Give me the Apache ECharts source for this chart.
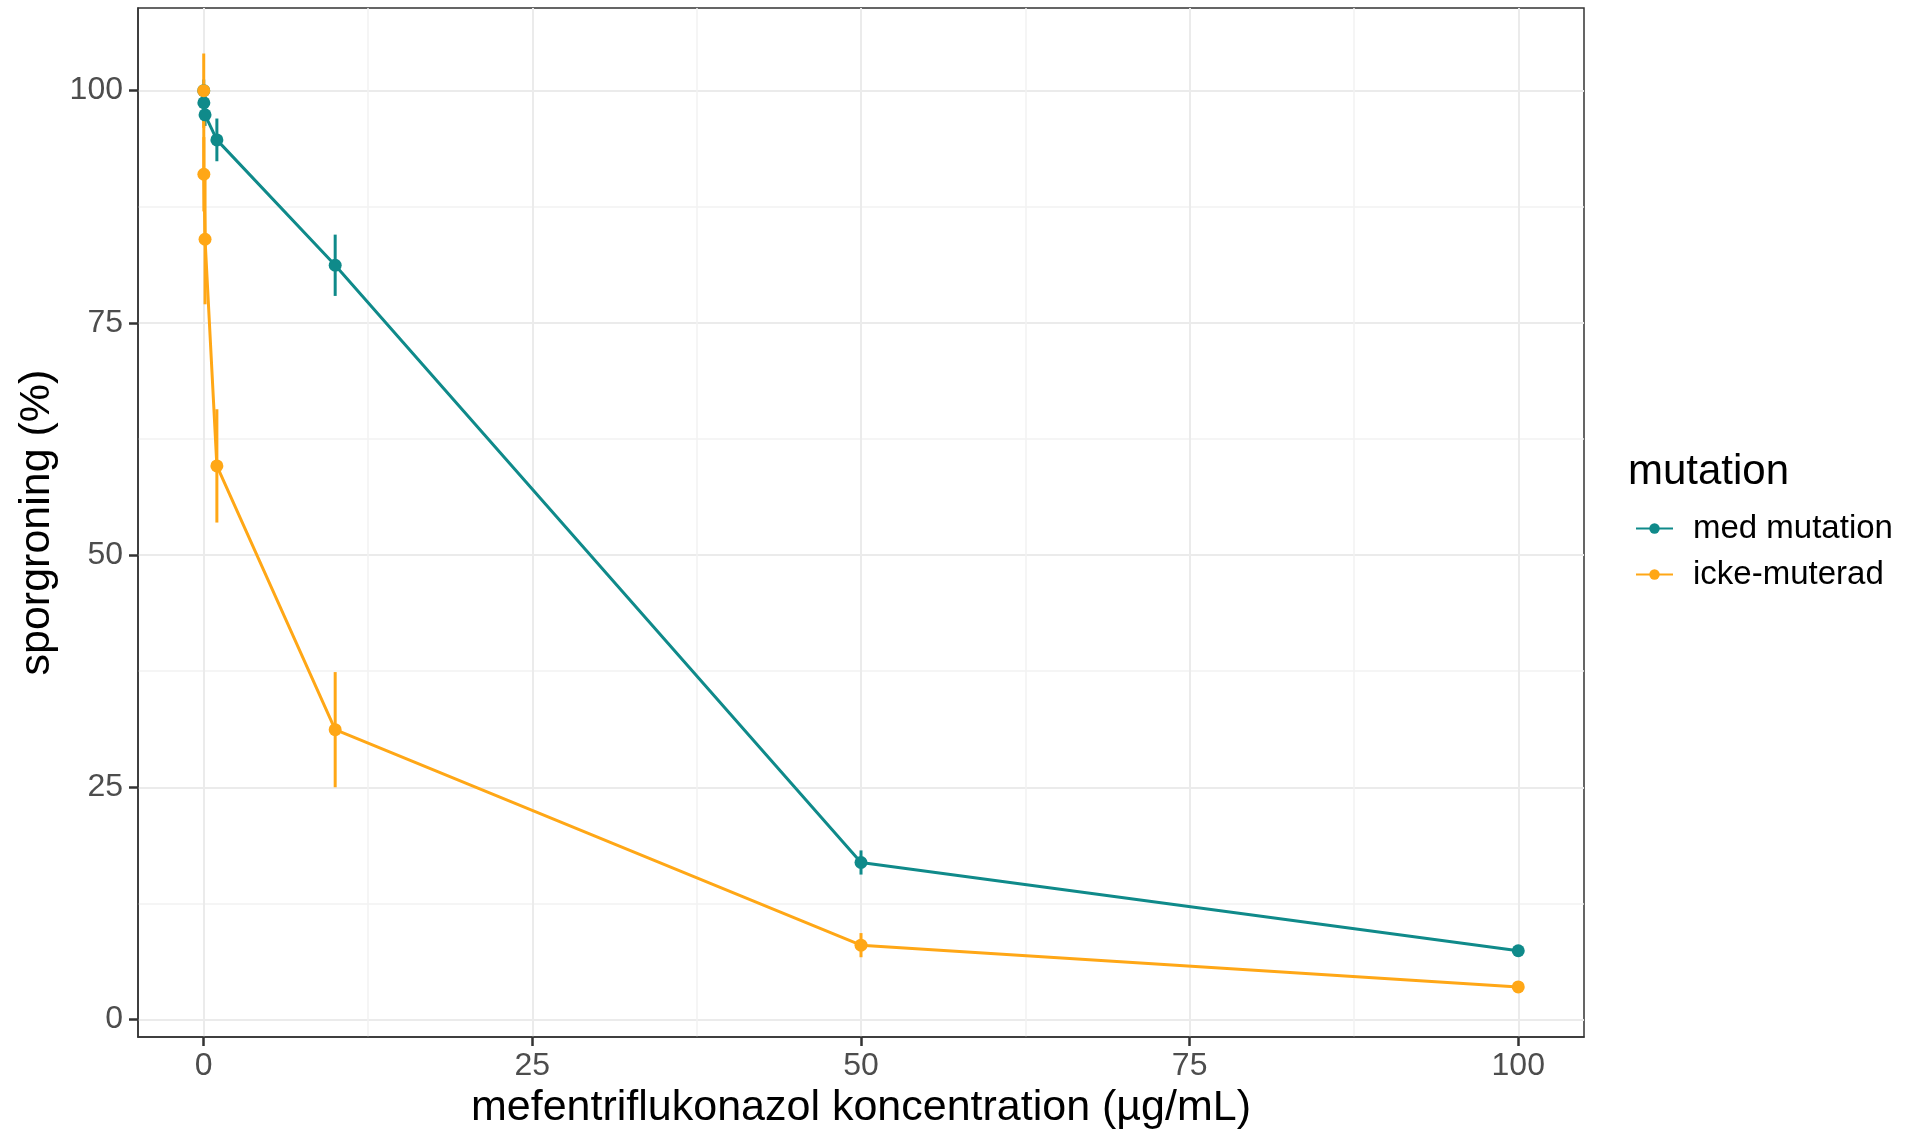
<!DOCTYPE html>
<html>
<head>
<meta charset="utf-8">
<script src="https://cdn.jsdelivr.net/npm/echarts@6/dist/echarts.min.js"></script>
<style>
    html, body { margin: 0; padding: 0; background: #fff; }
    #main { width: 1908px; height: 1135px; }
</style>
</head>
<body>
<div id="main"></div>
<script>
// koncentrationer (µg/mL)
var conc = [0, 0.01, 0.1, 1, 10, 50, 100];
// sporgroning (%) medelvärde och felstaplar (+/-)
var medMutation = [100, 98.7, 97.4, 94.7, 81.2, 16.9, 7.4];
var medMutationErr = [1.2, 1.5, 1.2, 2.3, 3.3, 1.3, 0.5];
var ickeMuterad = [100, 91.0, 84.0, 59.6, 31.2, 8.0, 3.5];
var ickeMuteradErr = [4.0, 4.0, 7.0, 6.1, 6.2, 1.3, 0.4];

var seriesNames = ['med mutation', 'icke-muterad'];
var colors = ['#0F8A8A', '#FFA716'];

var majorTicks = [0, 25, 50, 75, 100];
var minorTicks = [12.5, 37.5, 62.5, 87.5];

var fontFamily = 'Liberation Sans, Arial, sans-serif';
// --------------------------------------------------------------------------------------------------------------------
function toPoints(xs, ys) {
    var result = [];
    for (var i = 0; i < xs.length; i++) {
        result.push([xs[i], ys[i]]);
    }
    return result;
}
function toErrorBars(xs, ys, errs) {
    var result = [];
    for (var i = 0; i < xs.length; i++) {
        result.push([xs[i], ys[i] - errs[i], ys[i] + errs[i]]);
    }
    return result;
}
function errorBarSeries(name, data, color) {
    return {
        name: name + ' fel',
        type: 'custom',
        data: data,
        encode: { x: 0, y: [1, 2] },
        renderItem: function (params, api) {
            var lo = api.coord([api.value(0), api.value(1)]);
            var hi = api.coord([api.value(0), api.value(2)]);
            return {
                type: 'line',
                shape: { x1: lo[0], y1: lo[1], x2: hi[0], y2: hi[1] },
                style: { stroke: color, lineWidth: 3 }
            };
        },
        z: 3
    };
}
function lineSeries(name, data, color) {
    return {
        name: name,
        type: 'line',
        data: data,
        symbol: 'circle',
        symbolSize: 13,
        itemStyle: { color: color },
        lineStyle: { color: color, width: 3 },
        z: 4
    };
}
function makeAxis(extra) {
    var base = {
        type: 'value',
        axisLine: { show: true, onZero: false, lineStyle: { color: '#333333', width: 1.5 } },
        axisTick: { show: true, length: 9, customValues: majorTicks, lineStyle: { color: '#333333', width: 2.5 } },
        splitLine: { show: true, lineStyle: { color: '#EBEBEB', width: 2 } },
        nameTextStyle: { fontSize: 43, color: '#000', fontFamily: fontFamily }
    };
    return Object.assign(base, extra);
}
function minorAxis(extra) {
    var base = {
        type: 'value',
        axisLine: { show: false, onZero: false },
        axisTick: { show: false, customValues: minorTicks },
        axisLabel: { show: false, customValues: minorTicks },
        splitLine: { show: true, lineStyle: { color: '#F2F2F2', width: 1.5 } }
    };
    return Object.assign(base, extra);
}
// --------------------------------------------------------------------------------------------------------------------
var chart = echarts.init(document.getElementById('main'));
chart.setOption({
    animation: false,
    backgroundColor: '#ffffff',
    title: {
        text: 'mutation',
        left: 1628,
        top: 451,
        padding: 0,
        textStyle: { fontSize: 42, fontWeight: 'normal', color: '#000', fontFamily: fontFamily }
    },
    legend: {
        data: seriesNames,
        orient: 'vertical',
        left: 1635,
        top: 512,
        padding: 0,
        itemWidth: 37,
        itemHeight: 13,
        itemGap: 13,
        textStyle: { fontSize: 33, color: '#000', fontFamily: fontFamily, padding: [0, 0, 0, 15] }
    },
    grid: {
        left: 138,
        top: 8,
        width: 1446,
        height: 1030,
        show: true,
        borderColor: '#333333',
        borderWidth: 1.5,
        backgroundColor: 'transparent'
    },
    xAxis: [
        makeAxis({
            min: -5, max: 105,
            name: 'mefentriflukonazol koncentration (µg/mL)',
            nameLocation: 'middle',
            nameGap: 47,
            axisLabel: { customValues: majorTicks, fontSize: 32, color: '#4D4D4D', fontFamily: fontFamily, margin: 13 }
        }),
        minorAxis({ min: -5, max: 105, position: 'bottom' })
    ],
    yAxis: [
        makeAxis({
            min: -1.9, max: 108.9,
            name: 'sporgroning (%)',
            nameLocation: 'middle',
            nameRotate: 90,
            nameGap: 69,
            axisLabel: { customValues: majorTicks, fontSize: 32, color: '#4D4D4D', fontFamily: fontFamily, margin: 15 }
        }),
        minorAxis({ min: -1.9, max: 108.9, position: 'left' })
    ],
    series: [
        errorBarSeries(seriesNames[0], toErrorBars(conc, medMutation, medMutationErr), colors[0]),
        lineSeries(seriesNames[0], toPoints(conc, medMutation), colors[0]),
        errorBarSeries(seriesNames[1], toErrorBars(conc, ickeMuterad, ickeMuteradErr), colors[1]),
        lineSeries(seriesNames[1], toPoints(conc, ickeMuterad), colors[1])
    ]
});
</script>
</body>
</html>
